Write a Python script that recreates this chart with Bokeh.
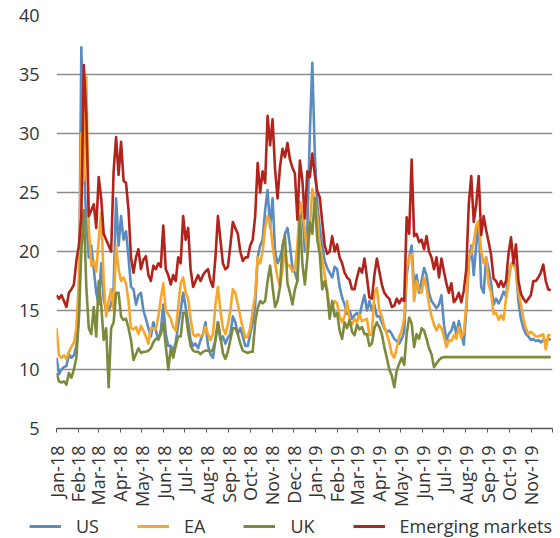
import math
import pandas as pd
from bokeh.plotting import figure
from bokeh.layouts import column, row
from bokeh.models import (FixedTicker, Range1d, Legend, LegendItem, ColumnDataSource)
from bokeh.embed import file_html
from bokeh.resources import INLINE

start_date = "2018-01-01"
n_obs = 200
dates = pd.date_range(start_date, periods=n_obs, freq="84h")

us = [
    11.0, 9.6, 10.0, 10.2, 10.3, 11.3, 11.0, 11.2, 12.0, 14.5,
    37.3, 27.5, 22.5, 19.5, 20.5, 18.5, 16.5, 15.5, 19.0, 16.0,
    15.0, 15.0, 15.5, 17.0, 24.5, 20.5, 23.0, 21.0, 21.7, 19.5,
    17.0, 16.8, 15.5, 16.3, 16.5, 15.0, 14.3, 13.5, 12.8, 14.0,
    13.3, 12.5, 13.3, 15.5, 13.0, 12.0, 12.0, 11.6, 12.3, 13.8,
    15.0, 16.5, 15.3, 14.0, 12.5, 12.0, 12.2, 11.8, 12.5, 13.0,
    14.0, 12.0, 11.3, 11.0, 12.5, 14.0, 12.5, 12.8, 12.2, 12.7,
    13.0, 14.5, 14.0, 13.0, 13.5, 12.8, 12.0, 12.0, 13.0, 14.0,
    15.5, 19.5, 20.5, 21.0, 23.5, 25.2, 22.0, 24.5, 20.0, 19.0,
    19.5, 20.3, 21.5, 22.0, 20.5, 18.6, 18.2, 17.5, 22.8, 23.5,
    20.0, 22.0, 30.0, 36.0, 28.3, 24.0, 22.0, 20.5, 19.2, 18.6,
    18.2, 17.8, 18.7, 18.5, 17.0, 16.1, 15.5, 14.7, 15.0, 14.3,
    14.6, 14.8, 14.5, 15.5, 16.3, 15.0, 15.8, 15.0, 15.5, 14.5,
    14.5, 14.0, 13.5, 13.2, 13.3, 13.0, 12.6, 12.4, 12.2, 12.6,
    13.2, 18.0, 19.5, 20.5, 17.0, 18.0, 16.5, 17.5, 18.6, 18.0,
    16.5, 15.8, 15.5, 15.2, 15.5, 16.3, 13.8, 12.5, 13.0, 13.3,
    14.0, 13.0, 14.1, 13.0, 12.1, 15.0, 19.0, 20.5, 18.0, 20.5,
    22.5, 17.0, 16.5, 19.5, 18.5, 17.3, 15.5, 16.0, 15.6, 16.0,
    16.6, 16.2, 18.0, 18.8, 19.2, 18.5, 15.8, 14.3, 13.5, 13.0,
    12.8, 12.5, 12.6, 12.4, 12.5, 12.3, 12.5, 12.4, 12.6, 12.5,
]

ea = [
    13.5, 11.2, 11.0, 11.2, 10.9, 11.5, 11.9, 12.3, 13.5, 17.5,
    30.0, 26.0, 34.8, 22.0, 18.8, 19.2, 18.3, 21.0, 23.3, 17.5,
    14.5, 15.8, 16.8, 15.0, 20.5, 18.5, 17.5, 17.8, 17.3, 15.8,
    13.5, 13.4, 13.6, 13.0, 13.7, 13.3, 12.8, 12.2, 13.5, 13.5,
    13.4, 14.5, 16.0, 17.3, 15.0, 14.7, 14.3, 13.6, 13.3, 15.3,
    17.3, 17.8, 16.5, 16.0, 14.3, 13.0, 12.8, 13.0, 12.8, 13.0,
    13.6, 13.0, 12.5, 13.0, 15.5, 17.0, 15.0, 13.5, 13.0, 13.8,
    15.0, 16.8, 16.5, 15.5, 14.5, 13.5, 12.7, 12.8, 13.5, 15.0,
    16.3, 19.5, 19.0, 20.0, 22.0, 23.0, 22.5, 20.5, 19.0, 17.8,
    17.0, 18.5, 20.0, 18.8, 18.8, 18.3, 18.5, 20.5, 24.2, 23.6,
    21.8, 19.8, 22.0, 25.3, 24.3, 23.0, 20.5, 19.3, 18.0, 16.7,
    15.0, 15.3, 15.8, 15.6, 14.5, 14.0, 14.5, 15.8, 14.2, 13.8,
    14.3, 14.0, 14.7, 14.1, 14.2, 14.3, 12.9, 13.0, 16.5, 16.9,
    15.0, 14.5, 13.6, 13.0, 12.3, 11.3, 11.0, 11.8, 12.8, 13.3,
    14.3, 18.6, 19.5, 19.8, 15.8, 17.5, 16.8, 16.5, 17.8, 16.9,
    15.5, 14.5, 13.8, 13.3, 13.8, 13.5, 12.8, 11.9, 12.5, 12.4,
    12.9, 12.6, 13.6, 12.7, 13.1, 15.5, 19.6, 19.8, 20.8, 22.2,
    22.6, 20.0, 19.0, 19.5, 17.2, 16.5, 14.7, 14.8, 14.2, 14.6,
    14.2, 16.0, 17.3, 18.9, 18.8, 18.5, 16.5, 15.5, 14.3, 13.5,
    13.0, 13.2, 13.0, 12.8, 12.8, 12.9, 13.0, 11.7, 12.9, 12.9,
]

uk = [
    9.7, 9.0, 8.9, 9.0, 8.7, 9.7, 9.3, 10.0, 11.0, 14.3,
    20.0, 23.5, 17.0, 13.5, 13.0, 15.3, 12.8, 17.5, 15.5, 12.5,
    13.5, 8.5, 13.5, 14.0, 16.5, 16.5, 14.5, 14.2, 14.3, 13.5,
    12.5, 10.8, 11.3, 11.8, 11.4, 11.5, 11.5, 11.6, 11.8, 12.3,
    12.6, 12.6, 13.0, 14.0, 12.0, 10.0, 11.8, 11.0, 12.0, 12.8,
    12.8, 14.8, 14.8, 13.2, 12.0, 11.6, 11.5, 11.5, 11.3, 11.5,
    11.6, 11.6, 11.5, 11.7, 12.5, 14.0, 12.8, 11.4, 10.9, 11.5,
    12.5, 13.5, 13.5, 13.0, 12.2, 11.6, 11.5, 11.4, 11.5, 11.5,
    14.0, 15.2, 15.8, 15.6, 15.8, 17.5, 18.8, 17.0, 15.3, 15.8,
    17.0, 20.5, 21.3, 17.3, 16.5, 15.5, 16.8, 17.5, 23.0, 19.0,
    17.2, 19.5, 22.5, 21.5, 24.5, 21.0, 19.8, 16.8, 17.5, 16.5,
    14.3, 15.8, 14.5, 14.8, 13.3, 12.6, 14.0, 13.5, 14.2, 13.2,
    12.9, 13.8, 13.4, 13.6, 13.0, 13.0, 12.0, 12.2, 13.5, 14.0,
    13.6, 13.0, 11.9, 11.0, 10.0, 9.5, 8.5, 9.9, 10.5, 11.0,
    10.4, 13.0, 14.4, 13.9, 11.9, 13.0, 12.6, 13.5, 13.3, 12.6,
    11.8, 11.3, 10.2, 10.5, 10.8, 11.0, 11.05, 11.05, 11.05, 11.05,
    11.05, 11.05, 11.05, 11.05, 11.05, 11.05, 11.05, 11.05, 11.05, 11.05,
    11.05, 11.05, 11.05, 11.05, 11.05, 11.05, 11.05, 11.05, 11.05, 11.05,
    11.05, 11.05, 11.05, 11.05, 11.05, 11.05, 11.05, 11.05, 11.05, 11.05,
    11.05, 11.05, 11.05, 11.05, 11.05, 11.05, 11.05, 11.05, 11.05, 11.05,
]

em = [
    16.3, 16.0, 16.3, 15.8, 15.3, 16.5, 16.8, 17.2, 19.2, 20.5,
    23.0, 35.8, 31.5, 23.0, 23.5, 24.0, 22.0, 26.3, 24.5, 21.5,
    21.0, 20.5, 20.0, 26.8, 29.7, 26.5, 29.3, 26.0, 25.8, 23.5,
    19.5, 18.2, 19.5, 20.2, 18.5, 19.3, 19.6, 18.0, 17.5, 18.8,
    18.5, 19.0, 18.7, 22.2, 18.5, 18.0, 17.2, 18.0, 17.5, 19.5,
    19.0, 23.0, 21.0, 22.0, 18.5, 17.0, 17.5, 18.0, 17.5, 18.0,
    18.3, 18.5, 17.5, 17.0, 19.5, 23.0, 21.0, 19.0, 18.5, 18.7,
    20.5, 22.5, 22.0, 21.5, 20.0, 19.2, 19.5, 19.5, 20.5, 21.0,
    23.0, 27.5, 25.0, 26.8, 25.8, 31.5, 29.0, 31.2, 27.0, 24.5,
    27.2, 28.7, 28.0, 29.2, 27.8, 27.1, 26.6, 22.7, 27.7, 26.0,
    22.8, 26.8, 26.3, 28.3, 26.5, 25.1, 24.6, 22.5, 20.5, 19.8,
    20.0, 21.3, 20.0, 20.6, 19.5, 19.0, 18.2, 17.8, 17.6, 16.8,
    16.8, 17.8, 18.6, 18.2, 19.4, 17.8, 16.1, 16.0, 18.0, 19.4,
    18.3, 17.2, 16.5, 16.2, 16.0, 15.3, 15.4, 16.0, 15.6, 16.0,
    15.8, 22.9, 21.5, 27.8, 21.3, 21.5, 20.8, 21.0, 20.2, 21.3,
    20.0, 19.5, 18.5, 19.5, 17.8, 19.4, 18.3, 17.3, 16.5, 17.3,
    15.7, 16.0, 16.5, 15.7, 16.7, 18.5, 24.0, 26.4, 22.5, 24.0,
    26.4, 21.4, 23.0, 21.8, 20.8, 19.7, 17.7, 17.5, 17.0, 17.5,
    17.0, 17.5, 19.8, 21.2, 19.0, 20.6, 17.5, 16.4, 16.0, 15.7,
    16.0, 16.3, 17.5, 17.5, 17.8, 18.2, 18.9, 17.5, 16.8, 16.7,
]

series_names = ["US", "EA", "UK", "Emerging markets"]
series_colors = ["#5b8cc1", "#f8a62b", "#7e8a3b", "#b2231c"]

y_ticks = [5, 10, 15, 20, 25, 30, 35, 40]
month_starts = pd.date_range("2018-01-01", "2019-12-01", freq="MS")
month_labels = ["Jan-18", "Feb-18", "Mar-18", "Apr-18", "May-18", "Jun-18",
                "Jul-18", "Aug-18", "Sep-18", "Oct-18", "Nov-18", "Dec-18",
                "Jan-19", "Feb-19", "Mar-19", "Apr-19", "May-19", "Jun-19",
                "Jul-19", "Aug-19", "Sep-19", "Oct-19", "Nov-19", ""]

# ---------------- main figure ----------------
FONT = "Open Sans"
TXT = "#333333"

src = ColumnDataSource(dict(date=dates, us=us, ea=ea, uk=uk, em=em))

p = figure(width=560, height=512, x_axis_type="datetime",
           output_backend="svg", toolbar_location=None,
           x_range=Range1d(month_starts[0], month_starts[-1]),
           y_range=Range1d(5, 40),
           min_border_top=15, min_border_left=56, min_border_right=8,
           min_border_bottom=84)
p.outline_line_color = None
p.background_fill_color = "white"
p.border_fill_color = "white"

for col, color in zip(["us", "ea", "uk", "em"], series_colors):
    p.line("date", col, source=src, line_color=color, line_width=2.6,
           line_join="round")

# y axis
p.yaxis.ticker = FixedTicker(ticks=y_ticks)
p.yaxis.axis_line_color = None
p.yaxis.major_tick_line_color = None
p.yaxis.minor_tick_line_color = None
p.yaxis.major_tick_out = 0
p.yaxis.major_label_standoff = 17
p.yaxis.major_label_text_font = FONT
p.yaxis.major_label_text_font_size = "18px"
p.yaxis.major_label_text_color = TXT

p.ygrid.ticker = FixedTicker(ticks=y_ticks)
p.ygrid.grid_line_color = "#8c8c8c"
p.ygrid.grid_line_width = 1.4
p.xgrid.grid_line_color = None

# x axis
tick_ms = [t.value / 1e6 for t in month_starts]
p.xaxis.ticker = FixedTicker(ticks=tick_ms)
p.xaxis.major_label_overrides = {ms: lab for ms, lab in zip(tick_ms, month_labels)}
p.xaxis.major_label_orientation = math.pi / 2
p.xaxis.axis_line_color = "#555555"
p.xaxis.axis_line_width = 1.5
p.xaxis.major_tick_line_color = "#555555"
p.xaxis.major_tick_out = 4
p.xaxis.major_tick_in = 0
p.xaxis.minor_tick_line_color = None
p.xaxis.major_label_standoff = 13
p.xaxis.major_label_text_font = FONT
p.xaxis.major_label_text_font_size = "18px"
p.xaxis.major_label_text_color = TXT

# ---------------- legend strip (key lines only, no data marks) ----------------
lf = figure(width=560, height=26, output_backend="svg", toolbar_location=None,
            x_range=Range1d(0, 1), y_range=Range1d(0, 1),
            x_axis_location=None, y_axis_location=None, min_border=0)
lf.outline_line_color = None
lf.xgrid.visible = False
lf.ygrid.visible = False
key_renderers = [lf.line(x=[float("nan")], y=[float("nan")], line_color=c, line_width=2.8)
                 for c in series_colors]

legend = Legend(items=[LegendItem(label=n, renderers=[r]) for n, r in zip(series_names, key_renderers)],
                orientation="horizontal", location=(29, 0),
                glyph_width=32, glyph_height=20, label_standoff=15, spacing=38,
                padding=0, margin=0, label_height=20,
                label_text_font=FONT, label_text_font_size="18px",
                label_text_color=TXT, border_line_color=None,
                background_fill_alpha=0)
lf.add_layout(legend, "center")

open("out.html", "w").write(file_html(column(p, row(lf), spacing=0), INLINE))
